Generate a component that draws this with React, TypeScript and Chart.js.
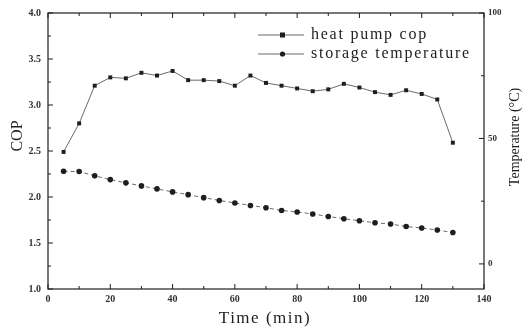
import React, { useEffect, useRef } from "react";
import { Chart, registerables } from "chart.js";
Chart.register(...registerables);

const times = [5, 10, 15, 20, 25, 30, 35, 40, 45, 50, 55, 60, 65, 70, 75, 80, 85, 90, 95, 100, 105, 110, 115, 120, 125, 130];
const copValues = [2.49, 2.8, 3.21, 3.3, 3.29, 3.35, 3.32, 3.37, 3.27, 3.27, 3.26, 3.21, 3.32, 3.24, 3.21, 3.18, 3.15, 3.17, 3.23, 3.19, 3.14, 3.11, 3.16, 3.12, 3.06, 2.59];
const tempValues = [36.9, 36.8, 35.1, 33.6, 32.3, 31.1, 29.9, 28.7, 27.6, 26.4, 25.3, 24.3, 23.3, 22.4, 21.3, 20.7, 19.9, 18.9, 18.0, 17.2, 16.4, 15.9, 14.9, 14.3, 13.5, 12.5];
const seriesNames = ["heat pump cop", "storage temperature"];
const xTitle = "Time (min)";
const yTitle = "COP";
const y2Title = "Temperature (\u00B0C)";
const rightTickValues = [0, 50, 100];

const INK = "#1e1e1e";
const LINE = "#6a6a6a";
const SERIF = "'Liberation Serif', 'DejaVu Serif', serif";

const framePlugin = {
  id: "frame",
  afterDatasetsDraw(chart: any) {
    const { ctx, chartArea: a, scales } = chart;
    const x = scales.x, y = scales.y, y1 = scales.y1;
    ctx.save();
    ctx.strokeStyle = INK;
    ctx.lineWidth = 1.2;
    ctx.strokeRect(a.left, a.top, a.right - a.left, a.bottom - a.top);
    ctx.lineWidth = 1;
    ctx.beginPath();
    for (let v = 0; v <= 140; v += 10) {
      const px = x.getPixelForValue(v);
      const len = v % 20 === 0 ? 5 : 3;
      ctx.moveTo(px, a.bottom); ctx.lineTo(px, a.bottom - len);
      ctx.moveTo(px, a.top); ctx.lineTo(px, a.top + len);
    }
    for (let v = 1; v <= 4.001; v += 0.25) {
      const py = y.getPixelForValue(v);
      const len = Math.abs(v * 2 - Math.round(v * 2)) < 0.01 ? 5 : 3;
      ctx.moveTo(a.left, py); ctx.lineTo(a.left + len, py);
    }
    for (let v = 0; v <= 100; v += 25) {
      const py = y1.getPixelForValue(v);
      const len = v % 50 === 0 ? 5 : 3;
      ctx.moveTo(a.right, py); ctx.lineTo(a.right - len, py);
    }
    ctx.stroke();

    // legend
    const rows = [
      { y: 35, style: "rect", name: seriesNames[0] },
      { y: 54, style: "circle", name: seriesNames[1] },
    ];
    ctx.font = `16px ${SERIF}`;
    (ctx as any).letterSpacing = "1.75px";
    ctx.textBaseline = "middle";
    ctx.textAlign = "left";
    for (const r of rows) {
      ctx.strokeStyle = LINE;
      ctx.beginPath();
      ctx.moveTo(258, r.y); ctx.lineTo(304, r.y);
      ctx.stroke();
      ctx.fillStyle = INK;
      if (r.style === "rect") ctx.fillRect(280, r.y - 2.5, 5, 5);
      else { ctx.beginPath(); ctx.arc(282.5, r.y, 2.6, 0, Math.PI * 2); ctx.fill(); }
      ctx.fillText(r.name, 311, r.y);
    }

    // axis titles
    ctx.fillStyle = INK;
    ctx.font = `17px ${SERIF}`;
    (ctx as any).letterSpacing = "1.5px";
    ctx.textAlign = "center";
    ctx.textBaseline = "alphabetic";
    ctx.fillText(xTitle, 265, 323);

    (ctx as any).letterSpacing = "0px";
    ctx.save();
    ctx.translate(18, 136);
    ctx.rotate(-Math.PI / 2);
    ctx.font = `16px ${SERIF}`;
    ctx.textBaseline = "middle";
    ctx.fillText(yTitle, 0, 0);
    ctx.restore();

    ctx.save();
    ctx.translate(515, 137);
    ctx.rotate(-Math.PI / 2);
    ctx.font = `14px ${SERIF}`;
    ctx.textBaseline = "middle";
    ctx.fillText(y2Title, 0, 0);
    ctx.restore();
    ctx.restore();
  },
};

export default function App() {
  const ref = useRef<HTMLCanvasElement>(null);
  useEffect(() => {
    const tickFont = { family: SERIF, size: 10, weight: "bold" as const };
    const chart = new Chart(ref.current!, {
      type: "line",
      data: {
        datasets: [
          {
            label: seriesNames[0],
            data: times.map((t, i) => ({ x: t, y: copValues[i] })),
            yAxisID: "y",
            borderColor: LINE,
            backgroundColor: INK,
            borderWidth: 1,
            pointStyle: "rect",
            pointRadius: 2.8,
            pointBorderWidth: 0,
          },
          {
            label: seriesNames[1],
            data: times.map((t, i) => ({ x: t, y: tempValues[i] })),
            yAxisID: "y1",
            borderColor: LINE,
            backgroundColor: INK,
            borderWidth: 1,
            borderDash: [4, 3],
            pointStyle: "circle",
            pointRadius: 2.8,
            pointBorderWidth: 0,
          },
        ],
      },
      options: {
        animation: false,
        responsive: false,
        layout: { padding: { top: 13, left: 0, right: 0, bottom: 0 } },
        plugins: { legend: { display: false }, tooltip: { enabled: false } },
        scales: {
          x: {
            type: "linear",
            min: 0,
            max: 140,
            grid: { display: false, drawTicks: false },
            border: { display: false },
            ticks: { stepSize: 20, font: tickFont, color: "#333", padding: 4, maxRotation: 0 },
            afterFit: (s: any) => { s.height = 38; },
          },
          y: {
            position: "left",
            min: 1,
            max: 4,
            grid: { display: false, drawTicks: false },
            border: { display: false },
            ticks: { stepSize: 0.5, font: tickFont, color: "#333", padding: 7, callback: (v: any) => Number(v).toFixed(1) },
            afterFit: (s: any) => { s.width = 48; },
          },
          y1: {
            position: "right",
            min: -10,
            max: 100,
            grid: { display: false, drawTicks: false },
            border: { display: false },
            ticks: { font: { family: SERIF, size: 9, weight: "bold" as const }, color: "#333", padding: 4 },
            afterBuildTicks: (s: any) => { s.ticks = rightTickValues.map((v) => ({ value: v })); },
            afterFit: (s: any) => { s.width = 42; },
          },
        },
      } as any,
      plugins: [framePlugin],
    });
    return () => chart.destroy();
  }, []);
  return (
    <div style={{ position: "fixed", left: 0, top: 0, width: 526, height: 327, background: "#fff" }}>
      <canvas ref={ref} width={526} height={327} style={{ width: 526, height: 327 }} />
    </div>
  );
}
